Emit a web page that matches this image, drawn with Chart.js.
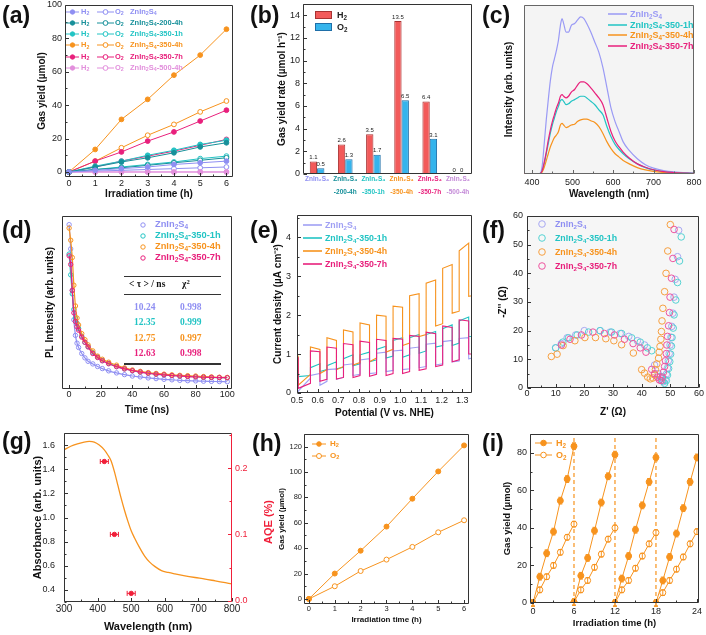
<!DOCTYPE html>
<html>
<head>
<meta charset="utf-8">
<script src="https://cdn.jsdelivr.net/npm/chart.js@4.4.1/dist/chart.umd.min.js"></script>
<style>
  html, body { margin: 0; padding: 0; background: #fff; }
  #fig { position: relative; width: 706px; height: 635px; overflow: hidden; font-family: 'Liberation Sans', Arial, sans-serif; }
  #fig canvas { position: absolute; }
  .lbl { position: absolute; font-size: 23px; line-height: 23px; font-weight: bold; color: #111; }
  .t { position: absolute; transform: translateY(-50%); white-space: nowrap; font-weight: bold; line-height: 1; }
  .t sub { font-size: 70%; position: relative; top: 0.25em; vertical-align: baseline; line-height: 0; }
  .t sup { font-size: 70%; position: relative; top: -0.45em; vertical-align: baseline; line-height: 0; }
  .rule { position: absolute; background: #333; }
</style>
</head>
<body>
<div id="fig"></div>
<script>
/* ── colours ──────────────────────────────────────────────── */
const LAV = '#8f8ff2', TEAL = '#17909a', CYAN = '#22c4c4', ORG = '#f7931e', MAG = '#e8207c', PNK = '#e28fdc';
const ZH = 'ZnIn<sub>2</sub>S<sub>4</sub>';

/* ── (a) gas evolution vs time ────────────────────────────── */
const aTime   = [0, 1, 2, 3, 4, 5, 6];
const aYTicks = [0, 20, 40, 60, 80, 100];
const aSuffix = ['', '-200-4h', '-350-1h', '-350-4h', '-350-7h', '-500-4h'];
const aColors = [LAV, TEAL, CYAN, ORG, MAG, PNK];
const aH2 = [
  [0, 1, 2, 3, 4.5, 5.5, 6.5],
  [0, 3, 6, 8.5, 11.5, 15, 17.5],
  [0, 3.5, 6.5, 10, 13, 16.5, 19],
  [0, 13.5, 31.5, 43.5, 58, 70, 85.5],
  [0, 6.5, 12, 18.5, 24, 30.5, 37],
  [0, 0, 0, 0, 0, 0, 0]
];
const aO2 = [
  [0, 0.5, 1, 1.5, 2, 2.5, 3],
  [0, 1.5, 2.5, 4, 5.5, 7, 8.5],
  [0, 1.5, 3, 4.5, 6, 8, 9.5],
  [0, 6.5, 14.5, 22, 28.5, 36, 42.5],
  [0, 3, 6.5, 9.5, 12.5, 16, 19.5],
  [0, 0, 0, 0, 0, 0, 0]
];

/* ── (b) rates ────────────────────────────────────────────── */
const bSuffix = ['', '-200-4h', '-350-1h', '-350-4h', '-350-7h', '-500-4h'];
const bColors = [LAV, TEAL, CYAN, ORG, MAG, '#c48ad8'];
const bH2 = [1.1, 2.6, 3.5, 13.5, 6.4, 0];
const bO2 = [0.5, 1.3, 1.7, 6.5, 3.1, 0];
const bYTicks = [0, 2, 4, 6, 8, 10, 12, 14];

/* ── (c) PL spectra ───────────────────────────────────────── */
const cWl = [380, 410, 420, 425, 430, 435, 440, 445, 450, 455, 460, 465, 470, 474, 478, 484, 490, 497, 505, 512,
             520, 528, 535, 545, 555, 565, 575, 585, 595, 605, 615, 625, 640, 660, 680, 700, 725, 750, 800];
const cLav  = [0, 0, 0.5, 5, 18, 32, 44, 55, 63, 68, 73, 79, 88, 92, 89, 84, 84, 88, 89, 91,
               93, 92, 89, 84, 78, 72, 63, 51, 39, 31, 25, 19, 14, 9, 5.5, 3.5, 2, 1.2, 0.5];
const cCyan = [0, 0, 0.3, 2, 6, 12, 18, 24, 29, 33, 37, 40, 43.5, 44, 43, 41, 41.5, 43, 44, 45,
               46, 46, 45, 43, 41, 38, 35, 28, 22, 17.5, 14.5, 12, 9, 6, 3.8, 2.4, 1.3, 0.8, 0.4];
const cOrg  = [0, 0, 0.2, 1.2, 4, 8, 12, 16, 19, 21.5, 23, 25, 29, 30, 29, 27.5, 28, 29, 29.5, 31,
               32, 32.5, 32.5, 31.5, 30.5, 28, 24, 19, 15, 12, 10, 8, 6, 3.8, 2.4, 1.5, 0.9, 0.5, 0.2];
const cMag  = [0, 0, 0.3, 2, 7, 13, 20, 26, 31, 35, 39, 42, 46, 47, 46, 45, 46, 48.5, 50, 52.5,
               54.5, 54.5, 53.5, 51, 48, 45, 41, 33, 25, 19.5, 16, 13, 9.5, 6, 4, 2.5, 1.4, 0.9, 0.4];
const cXTicks = [400, 500, 600, 700, 800];

/* ── (d) TRPL decay ───────────────────────────────────────── */
const dTime = [0, 1, 2, 3, 4, 5, 6, 8, 10, 12, 15, 18, 21, 25, 30, 35, 40, 45, 50, 55, 60, 65, 70, 75, 80, 85, 90, 95, 100];
const dLav  = [0.95, 0.81, 0.57, 0.40, 0.31, 0.265, 0.24, 0.205, 0.18, 0.16, 0.145, 0.13, 0.118, 0.105, 0.093,
               0.083, 0.075, 0.07, 0.064, 0.06, 0.056, 0.053, 0.05, 0.048, 0.047, 0.045, 0.044, 0.043, 0.042];
const dCyan = [0.78, 0.66, 0.55, 0.46, 0.41, 0.38, 0.35, 0.305, 0.27, 0.245, 0.21, 0.185, 0.165, 0.148, 0.13,
               0.117, 0.106, 0.098, 0.092, 0.086, 0.082, 0.078, 0.075, 0.073, 0.071, 0.069, 0.067, 0.066, 0.065];
const dOrg  = [0.93, 0.86, 0.76, 0.60, 0.48, 0.41, 0.37, 0.32, 0.285, 0.255, 0.22, 0.19, 0.172, 0.155, 0.138,
               0.122, 0.11, 0.102, 0.095, 0.09, 0.086, 0.082, 0.079, 0.077, 0.075, 0.072, 0.07, 0.068, 0.067];
const dMag  = [0.77, 0.72, 0.57, 0.44, 0.39, 0.36, 0.34, 0.30, 0.27, 0.243, 0.205, 0.182, 0.163, 0.146, 0.129,
               0.116, 0.106, 0.098, 0.091, 0.086, 0.082, 0.078, 0.075, 0.072, 0.07, 0.068, 0.067, 0.066, 0.065];
const dXTicks = [0, 20, 40, 60, 80, 100];
const dTau = ['10.24', '12.35', '12.75', '12.63'];
const dChi = ['0.998', '0.999', '0.997', '0.998'];

/* ── (e) chopped photocurrent ─────────────────────────────── */
const eRise = [0.565, 0.645, 0.725, 0.805, 0.885, 0.965, 1.045, 1.125, 1.205, 1.285];
const eFall = [0.506, 0.611, 0.691, 0.771, 0.851, 0.931, 1.011, 1.091, 1.171, 1.251, 1.331];
const eLavOn  = [[0, 0.02], [0.45, 0.5], [0.6, 0.62], [0.72, 0.75], [0.85, 0.88], [1.02, 1.05], [1.08, 1.1], [1.15, 1.18], [1.25, 1.28], [1.32, 1.35], [1.4, 1.42]];
const eLavOff = [[0.05, 0.38], [0.2, 0.3], [0.35, 0.4], [0.45, 0.48], [0.5, 0.52], [0.55, 0.58], [0.6, 0.62], [0.65, 0.68], [0.72, 0.75], [0.8, 0.82], [0.88, 0.9]];
const eCyanOn  = [[0.55, 0.62], [0.65, 0.75], [0.7, 0.8], [0.88, 0.98], [0.98, 1.05], [1.12, 1.2], [1.35, 1.42], [1.42, 1.5], [1.5, 1.58], [1.65, 1.75], [1.85, 1.95]];
const eCyanOff = [[0.42, 0.45], [0.55, 0.6], [0.62, 0.66], [0.7, 0.75], [0.8, 0.85], [0.9, 0.95], [0.92, 0.98], [1.02, 1.08], [1.18, 1.22], [1.22, 1.28], [1.45, 1.45]];
const eOrgOn  = [[0.8, 0.9], [1.18, 1.12], [1.42, 1.35], [1.62, 1.57], [1.8, 1.75], [2.0, 1.97], [2.23, 2.2], [2.5, 2.55], [2.82, 2.9], [3.2, 3.3], [3.65, 3.85]];
const eOrgOff = [[0.2, 0.48], [0.5, 0.6], [0.6, 0.68], [0.72, 0.78], [0.8, 0.9], [1.05, 1.12], [1.22, 1.28], [1.45, 1.5], [1.72, 1.78], [2.05, 2.1], [2.48, 2.5]];
const eMagOn  = [[0.88, 0.9], [1.08, 1.06], [1.18, 1.15], [1.27, 1.24], [1.33, 1.3], [1.38, 1.35], [1.4, 1.38], [1.48, 1.45], [1.56, 1.52], [1.72, 1.68], [1.88, 1.85]];
const eMagOff = [[0.12, 0.25], [0.3, 0.35], [0.36, 0.4], [0.4, 0.45], [0.43, 0.48], [0.45, 0.5], [0.5, 0.55], [0.58, 0.62], [0.68, 0.72], [0.8, 0.85], [1.0, 1.0]];
const eXTicks = [0.5, 0.6, 0.7, 0.8, 0.9, 1.0, 1.1, 1.2, 1.3];
const eYTicks = [0, 1, 2, 3, 4];

/* ── (f) Nyquist ──────────────────────────────────────────── */
const fLav = [[10, 14], [12, 15.5], [14, 17.5], [17, 18.5], [20, 20], [25.5, 20], [29, 19.5], [32.5, 19], [35.5, 18], [38.5, 16.5], [41, 15],
  [44.5, 8], [45.8, 5], [46.8, 3.2], [47.6, 2.2], [48.2, 3], [48.6, 4.8], [49, 7], [49.3, 9.5], [49.6, 12], [49.9, 15], [50.2, 17.7],
  [50.5, 21.5], [50.9, 26.1], [51.3, 31.7], [51.7, 37.9], [52.5, 45.8], [52.9, 55]];
const fCyan = [[10, 14], [12.5, 16], [14.5, 17.5], [17.5, 18.5], [21.5, 19.5], [25.5, 20], [29.5, 19.5], [33, 19], [36.5, 17.5], [39.5, 16],
  [42, 14], [43.5, 13], [46.5, 4], [47.3, 2.5], [48, 1.6], [48.6, 2.6], [49, 4.5], [49.4, 6.8], [49.8, 9.2], [50.1, 11.8], [50.4, 14.6],
  [50.6, 17.6], [51, 20.9], [51.3, 25.5], [51.9, 30.7], [52.5, 36.8], [53.2, 44.3], [53.8, 52.7]];
const fOrg = [[8.5, 11], [10.5, 11.8], [12.6, 14.8], [16.7, 16.5], [20.2, 17.6], [23.9, 17.6], [27.5, 17.2], [30.3, 16.5], [33, 15.1],
  [37.1, 12.2], [40, 6.4], [41, 5.2], [42.1, 3.8], [43, 3.2], [43.9, 3.5], [44.5, 4.6], [44.8, 6.4], [45.3, 8.4], [45.9, 10.4],
  [46.1, 12.5], [46.4, 14.5], [46.7, 17], [46.9, 19.7], [47.1, 23.4], [47.4, 27.8], [48, 33.6], [48.5, 40], [49.1, 47.8], [50, 57]];
const fMag = [[12, 15], [15, 17], [19, 18.5], [23, 19.5], [27, 19], [30.5, 18.5], [34, 17], [37, 15.5], [39.5, 14], [41.5, 12.5],
  [43.5, 6.5], [44.5, 5], [45.5, 3.8], [46.2, 2.8], [46.8, 2.6], [47.2, 3.8], [47.6, 5.5], [48, 7.5], [48.3, 9.5], [48.6, 12], [48.8, 15],
  [49, 18], [49.4, 21.7], [49.7, 26.3], [49.9, 31.7], [50.4, 38.3], [50.9, 45.2], [51.3, 55.3]];
const fTicks = [0, 10, 20, 30, 40, 50, 60];

/* ── (g) absorbance + AQE ─────────────────────────────────── */
const gWl  = [300, 320, 340, 360, 375, 390, 405, 420, 430, 440, 450, 460, 470, 480, 490, 500, 510, 525, 540, 555,
              570, 590, 610, 630, 660, 690, 720, 750, 780, 800];
const gAbs = [1.56, 1.59, 1.61, 1.625, 1.63, 1.625, 1.60, 1.56, 1.52, 1.47, 1.38, 1.27, 1.16, 1.06, 0.97, 0.89, 0.83, 0.75, 0.68, 0.63,
              0.595, 0.56, 0.545, 0.533, 0.517, 0.503, 0.49, 0.475, 0.46, 0.45];
const gAqeWl  = [420, 450, 500];
const gAqe    = [0.21, 0.10, 0.011];
const gAqeErr = [12, 12, 12];
const gXTicks  = [300, 400, 500, 600, 700, 800];
const gYTicks  = [0.4, 0.6, 0.8, 1.0, 1.2, 1.4, 1.6];
const gY2Ticks = [0, 0.1, 0.2];

/* ── (h) long run ─────────────────────────────────────────── */
const hTime = [0, 1, 2, 3, 4, 5, 6];
const hH2 = [0, 20, 38, 57, 79, 100.5, 121];
const hO2 = [0, 10, 22, 31, 41, 52.5, 62];
const hYTicks = [0, 20, 40, 60, 80, 100, 120];

/* ── (i) cycling ──────────────────────────────────────────── */
const iTime = [[0, 1, 2, 3, 4, 5, 6], [6, 7, 8, 9, 10, 11, 12], [12, 13, 14, 15, 16, 17, 18], [18, 19, 20, 21, 22, 23, 24]];
const iH2 = [[0, 14, 26.5, 38, 54.5, 66, 83.5], [0.5, 14.5, 24, 38.5, 53.5, 67.5, 79], [0, 13, 25, 39, 52, 64.5, 77.5], [0, 12, 24.5, 37, 50.5, 64.5, 77.5]];
const iO2 = [[0, 7, 14, 20, 27, 35, 42], [0.5, 7, 12, 19, 26, 34, 40], [0, 7, 12, 18.5, 25, 31.5, 37.5], [0, 5.5, 12, 18, 24.5, 31.5, 38]];
const iSwitch = [6, 12, 18];
const iXTicks = [0, 6, 12, 18, 24];
const iYTicks = [0, 20, 40, 60, 80];

/* ── Chart.js setup ───────────────────────────────────────── */
Chart.defaults.font.family = "'Liberation Sans', Arial, sans-serif";
Chart.defaults.color = '#222';
Chart.defaults.animation = false;
Chart.defaults.events = [];
Chart.defaults.plugins.legend.display = false;
Chart.defaults.plugins.tooltip.enabled = false;

/* box round the plot area, inward ticks */
const framePlugin = {
  id: 'frame',
  beforeDatasetsDraw(chart, args, o) {
    if (!o.bg) return;
    const a = chart.chartArea, ctx = chart.ctx;
    ctx.save();
    ctx.fillStyle = o.bg;
    ctx.fillRect(a.left, a.top, a.right - a.left, a.bottom - a.top);
    ctx.restore();
  },
  afterDraw(chart, args, o) {
    const a = chart.chartArea, ctx = chart.ctx;
    const L = Math.round(a.left) + 0.5, R = Math.round(a.right) - 0.5;
    const T = Math.round(a.top) + 0.5, B = Math.round(a.bottom) - 0.5;
    const col = o.color || '#333';
    const seg = (x1, y1, x2, y2, c) => { ctx.strokeStyle = c; ctx.beginPath(); ctx.moveTo(x1, y1); ctx.lineTo(x2, y2); ctx.stroke(); };
    ctx.save();
    ctx.lineWidth = 1;
    seg(L, T, R, T, col); seg(L, B, R, B, col); seg(L, T, L, B, col); seg(R, T, R, B, o.right || col);
    (o.ticks || '').split(',').filter(Boolean).forEach(id => {
      const s = chart.scales[id];
      const v = s.ticks.map(t => t.value);
      const minor = [];
      for (let i = 0; i + 1 < v.length; i++) minor.push((v[i] + v[i + 1]) / 2);
      if (v.length > 1) { const st = v[1] - v[0]; minor.push(v[0] - st / 2, v[v.length - 1] + st / 2); }
      const c = s.position === 'right' ? (o.right || col) : col;
      const draw = (val, len) => {
        if (val < s.min - 1e-9 || val > s.max + 1e-9) return;
        const p = Math.round(s.getPixelForValue(val)) + 0.5;
        if (s.isHorizontal()) seg(p, B, p, B - len, c);
        else if (s.position === 'right') seg(R, p, R - len, p, c);
        else seg(L, p, L + len, p, c);
      };
      v.forEach(x => draw(x, 3.5));
      minor.forEach(x => draw(x, 2));
    });
    ctx.restore();
  }
};
Chart.register(framePlugin);

const errBars = {
  id: 'errBars',
  afterDatasetsDraw(chart) {
    const ctx = chart.ctx;
    chart.data.datasets.forEach((ds, i) => {
      if (ds.errX == null && ds.errY == null) return;
      const meta = chart.getDatasetMeta(i);
      const xs = chart.scales[meta.xAxisID], ys = chart.scales[meta.yAxisID];
      ctx.save();
      ctx.strokeStyle = ds.borderColor;
      ctx.lineWidth = 1;
      ds.data.forEach((p, j) => {
        const x = xs.getPixelForValue(p.x), y = ys.getPixelForValue(p.y);
        ctx.beginPath();
        if (ds.errX != null) {
          const e = Array.isArray(ds.errX) ? ds.errX[j] : ds.errX;
          const x0 = xs.getPixelForValue(p.x - e), x1 = xs.getPixelForValue(p.x + e);
          ctx.moveTo(x0, y); ctx.lineTo(x1, y);
          ctx.moveTo(x0, y - 2.5); ctx.lineTo(x0, y + 2.5);
          ctx.moveTo(x1, y - 2.5); ctx.lineTo(x1, y + 2.5);
        }
        if (ds.errY != null) {
          const e = Array.isArray(ds.errY) ? ds.errY[j] : ds.errY;
          const y0 = ys.getPixelForValue(p.y - e), y1 = ys.getPixelForValue(p.y + e);
          ctx.moveTo(x, y0); ctx.lineTo(x, y1);
          ctx.moveTo(x - 2, y0); ctx.lineTo(x + 2, y0);
          ctx.moveTo(x - 2, y1); ctx.lineTo(x + 2, y1);
        }
        ctx.stroke();
      });
      ctx.restore();
    });
  }
};

const barValues = {
  id: 'barValues',
  afterDatasetsDraw(chart) {
    const ctx = chart.ctx;
    ctx.save();
    ctx.font = "6px 'Liberation Sans', Arial, sans-serif";
    ctx.fillStyle = '#222';
    ctx.textAlign = 'center';
    ctx.textBaseline = 'bottom';
    chart.data.datasets.forEach((ds, i) => {
      chart.getDatasetMeta(i).data.forEach((bar, j) => ctx.fillText(String(ds.data[j]), bar.x, bar.y - 1));
    });
    ctx.restore();
  }
};

/* ── helpers ──────────────────────────────────────────────── */
const fig = document.getElementById('fig');

function axis(o) {
  const horiz = o.pos === 'bottom';
  const cfg = {
    type: o.type || 'linear',
    position: o.pos,
    afterFit: s => {
      if (s.isHorizontal()) s.height = o.size; else s.width = o.size;
      s.paddingLeft = s.paddingRight = s.paddingTop = s.paddingBottom = 0;
    },
    grid: { display: false, drawTicks: false },
    border: { display: false },
    ticks: {
      display: o.labels !== false, padding: o.pad || 0, autoSkip: false, maxRotation: 0,
      font: { size: o.fs || 9, lineHeight: o.lh || 1.2, weight: o.fw || 'normal' },
      color: o.color || '#222'
    },
    title: {
      display: !!o.title, text: o.title || '', color: '#111',
      font: { size: o.tfs || 10, weight: 'bold' },
      padding: horiz ? { top: 0, bottom: o.tpad || 0 } : { top: o.tpad || 0, bottom: 0 }
    }
  };
  if (o.min !== undefined) { cfg.min = o.min; cfg.max = o.max; }
  if (o.ticks) cfg.afterBuildTicks = s => { s.ticks = o.ticks.map(v => ({ value: v })); };
  if (o.fmt) cfg.ticks.callback = o.fmt;
  return cfg;
}

function line(xs, ys, color, o = {}) {
  return {
    data: ys.map((y, i) => ({ x: xs[i], y })),
    showLine: true, borderColor: color, backgroundColor: color, borderWidth: o.lw || 1,
    pointRadius: o.r || 0, pointBorderWidth: 1, pointBorderColor: color,
    pointBackgroundColor: o.fill || color,
    cubicInterpolationMode: o.smooth ? 'monotone' : 'default'
  };
}

function pairs(arr, color, r) {
  return { data: arr.map(([x, y]) => ({ x, y })), showLine: false, pointRadius: r, pointBorderWidth: 1,
           pointBorderColor: color, pointBackgroundColor: 'rgba(0,0,0,0)', borderColor: color };
}

function chop(on, off) {
  const pts = [{ x: 0.5, y: on[0][0] }, { x: eFall[0], y: on[0][1] }];
  for (let k = 0; k < eFall.length; k++) {
    pts.push({ x: eFall[k], y: off[k][0] });
    if (k < eRise.length) {
      pts.push({ x: eRise[k], y: off[k][1] }, { x: eRise[k], y: on[k + 1][0] }, { x: eFall[k + 1], y: on[k + 1][1] });
    } else {
      pts.push({ x: 1.35, y: off[k][1] });
    }
  }
  return pts;
}

function mk(box, cfg) {
  const c = document.createElement('canvas');
  c.width = box[2]; c.height = box[3];
  c.style.left = box[0] + 'px'; c.style.top = box[1] + 'px';
  fig.appendChild(c);
  cfg.options.responsive = false;
  cfg.options.devicePixelRatio = 1;
  return new Chart(c, cfg);
}

function put(x, y, html, style) {
  const d = document.createElement('div');
  d.className = 't';
  d.innerHTML = html;
  d.style.cssText = `left:${x}px;top:${y}px;` + (style || '');
  fig.appendChild(d);
  return d;
}

function mark(x, y, w, color, o = {}) {
  let s = `<svg width="${w}" height="12" style="position:absolute;left:${x}px;top:${y - 6}px;overflow:visible">`;
  if (o.line) s += `<line x1="0" y1="6" x2="${w}" y2="6" stroke="${color}" stroke-width="${o.lw || 1.2}"/>`;
  if (o.rect) s += `<rect x="0.5" y="${6 - o.rect / 2}" width="${w - 1}" height="${o.rect}" fill="${color}" stroke="${o.stroke}" stroke-width="1"/>`;
  if (o.dot) s += `<circle cx="${w / 2}" cy="6" r="${o.r || 2.5}" fill="${o.dot === 'open' ? '#fff' : o.dot === 'ring' ? 'none' : color}" stroke="${color}" stroke-width="1"/>`;
  fig.insertAdjacentHTML('beforeend', s + '</svg>');
}

/* ── (a) ──────────────────────────────────────────────────── */
mk([0, 0, 238, 210], {
  type: 'scatter',
  data: { datasets: [
    ...aH2.map((v, i) => line(aTime, v, aColors[i], { r: 2.4 })),
    ...aO2.map((v, i) => line(aTime, v, aColors[i], { r: 2.4, fill: '#fff' }))
  ] },
  options: {
    layout: { padding: { top: 5, right: 3 } },
    plugins: { frame: { ticks: 'x,y' } },
    scales: {
      x: axis({ pos: 'bottom', min: -0.15, max: 6.25, ticks: aTime, size: 33, pad: 1, title: 'Irradiation time (h)', tpad: 10 }),
      y: axis({ pos: 'left', min: -3, max: 100, ticks: aYTicks, size: 65, pad: 3, title: 'Gas yield (µmol)', tpad: 36 })
    }
  }
});
aSuffix.forEach((suf, i) => {
  const y = 11.7 + i * 11.2, c = aColors[i], st = `font-size:7.5px;color:${c};`;
  mark(66, y, 13, c, { line: true, dot: 'fill', r: 2.2, lw: 1 });
  put(81, y, 'H<sub>2</sub>', st);
  mark(97, y, 17, c, { line: true, dot: 'open', r: 2.4, lw: 1 });
  put(115, y, 'O<sub>2</sub>', st);
  put(130, y, ZH + suf, st);
});

/* ── (b) ──────────────────────────────────────────────────── */
mk([238, 0, 236, 210], {
  type: 'bar',
  data: {
    labels: bSuffix.map(s => ['ZnIn₂S₄', s]),
    datasets: [
      { data: bH2, backgroundColor: '#f25a5a', borderColor: '#a83232', borderWidth: 1, barPercentage: 1, categoryPercentage: 0.52 },
      { data: bO2, backgroundColor: '#35b4ec', borderColor: '#1f6fa8', borderWidth: 1, barPercentage: 1, categoryPercentage: 0.52 }
    ]
  },
  plugins: [barValues],
  options: {
    layout: { padding: { top: 4, right: 2 } },
    plugins: { frame: { ticks: 'y' } },
    scales: {
      x: axis({ type: 'category', pos: 'bottom', size: 36, pad: -1, fs: 6.5, lh: 2, fw: 'bold',
                color: c => bColors[c.index], fmt: function (v) { return this.getLabelForValue(v); } }),
      y: axis({ pos: 'left', min: 0, max: 15, ticks: bYTicks, size: 65, pad: 3, title: 'Gas yield rate (µmol h⁻¹)', tpad: 38 })
    }
  }
});
mark(315, 15, 17, '#f25a5a', { rect: 7, stroke: '#a83232' });
put(337, 15, 'H<sub>2</sub>', 'font-size:9px;color:#222;');
mark(315, 27, 17, '#35b4ec', { rect: 7, stroke: '#1f6fa8' });
put(337, 27, 'O<sub>2</sub>', 'font-size:9px;color:#222;');

/* ── (c) ──────────────────────────────────────────────────── */
mk([474, 0, 232, 210], {
  type: 'scatter',
  data: { datasets: [
    line(cWl, cMag, MAG, { lw: 1.2, smooth: true }),
    line(cWl, cOrg, ORG, { lw: 1.2, smooth: true }),
    line(cWl, cCyan, CYAN, { lw: 1.2, smooth: true }),
    line(cWl, cLav, '#9a9af5', { lw: 1.2, smooth: true })
  ] },
  options: {
    layout: { padding: { top: 5, right: 12 } },
    plugins: { frame: { ticks: 'x', bg: '#f4f4f4', color: '#666' } },
    scales: {
      x: axis({ pos: 'bottom', min: 380, max: 800, ticks: cXTicks, size: 36, pad: 3.6, title: 'Wavelength (nm)', tpad: 10 }),
      y: axis({ pos: 'left', min: 0, max: 100, labels: false, size: 50, title: 'Intensity (arb. units)', tpad: 29 })
    }
  }
});
[['', '#9a9af5'], ['-350-1h', CYAN], ['-350-4h', ORG], ['-350-7h', MAG]].forEach(([suf, c], i) => {
  const y = 14 + i * 10.5;
  mark(608, y, 19, c, { line: true, lw: 1.5 });
  put(630, y, ZH + suf, `font-size:9px;color:${c};`);
});

/* ── (d) ──────────────────────────────────────────────────── */
mk([0, 210, 238, 212], {
  type: 'scatter',
  data: { datasets: [
    line(dTime, dMag, MAG, { r: 2.2, fill: 'rgba(0,0,0,0)', lw: 1.2, smooth: true }),
    line(dTime, dOrg, ORG, { r: 2.2, fill: 'rgba(0,0,0,0)', lw: 1.2, smooth: true }),
    line(dTime, dCyan, CYAN, { r: 2.2, fill: 'rgba(0,0,0,0)', lw: 1.2, smooth: true }),
    line(dTime, dLav, LAV, { r: 2.2, fill: 'rgba(0,0,0,0)', lw: 1.2, smooth: true })
  ] },
  options: {
    layout: { padding: { top: 6, right: 6 } },
    plugins: { frame: { ticks: 'x' } },
    scales: {
      x: axis({ pos: 'bottom', min: -4.5, max: 103, ticks: dXTicks, size: 33, pad: 0.6, title: 'Time (ns)', tpad: 6 }),
      y: axis({ pos: 'left', min: 0, max: 1, labels: false, size: 62, title: 'PL Intensity (arb. units)', tpad: 44 })
    }
  }
});
const dColors = [LAV, CYAN, ORG, MAG];
['', '-350-1h', '-350-4h', '-350-7h'].forEach((suf, i) => {
  const y = 225 + i * 11;
  mark(140, y, 6, dColors[i], { dot: 'ring', r: 2.2 });
  put(155, y, ZH + suf, `font-size:9.3px;color:${dColors[i]};`);
});
[[276, 1], [294, 1], [363, 2]].forEach(([y, h]) => {
  const r = document.createElement('div');
  r.className = 'rule';
  r.style.cssText = `left:124px;top:${y}px;width:97px;height:${h}px;`;
  fig.appendChild(r);
});
const serif = "font-family:'Liberation Serif','Times New Roman',serif;font-size:9.5px;";
put(129, 285, '&lt; τ &gt; / ns', serif + 'color:#111;');
put(182, 285, 'χ<sup>2</sup>', serif + 'color:#111;');
dTau.forEach((v, i) => {
  const y = 308 + i * 15.3;
  put(134, y, v, serif + `color:${dColors[i]};`);
  put(180, y, dChi[i], serif + `color:${dColors[i]};`);
});

/* ── (e) ──────────────────────────────────────────────────── */
mk([238, 210, 236, 212], {
  type: 'scatter',
  data: { datasets: [
    { data: chop(eMagOn, eMagOff), showLine: true, borderColor: MAG, borderWidth: 1.1, pointRadius: 0 },
    { data: chop(eOrgOn, eOrgOff), showLine: true, borderColor: ORG, borderWidth: 1.1, pointRadius: 0 },
    { data: chop(eCyanOn, eCyanOff), showLine: true, borderColor: CYAN, borderWidth: 1.1, pointRadius: 0 },
    { data: chop(eLavOn, eLavOff), showLine: true, borderColor: '#a0a0f4', borderWidth: 1.1, pointRadius: 0 }
  ] },
  options: {
    layout: { padding: { top: 5, right: 2 } },
    plugins: { frame: { ticks: 'x,y' } },
    scales: {
      x: axis({ pos: 'bottom', min: 0.5, max: 1.347, ticks: eXTicks, size: 29, pad: 2.6, fmt: v => v.toFixed(1), title: 'Potential (V vs. NHE)', tpad: 3 }),
      y: axis({ pos: 'left', min: 0, max: 4.57, ticks: eYTicks, size: 59, pad: 6, title: 'Current density (µA cm⁻²)', tpad: 34 })
    }
  }
});
[['', '#a0a0f4'], ['-350-1h', CYAN], ['-350-4h', ORG], ['-350-7h', MAG]].forEach(([suf, c], i) => {
  const y = 225 + i * 13.1;
  mark(303, y, 19, c, { line: true, lw: 1.6 });
  put(325, y, ZH + suf, `font-size:8.8px;color:${c};`);
});

/* ── (f) ──────────────────────────────────────────────────── */
mk([474, 210, 232, 212], {
  type: 'scatter',
  data: { datasets: [
    pairs(fMag, '#ee55a0', 3.3),
    pairs(fOrg, '#f7a040', 3.3),
    pairs(fCyan, '#55d3d3', 3.3),
    pairs(fLav, '#a8a8f2', 3.3)
  ] },
  options: {
    layout: { padding: { top: 6, right: 7 } },
    plugins: { frame: { ticks: 'x,y', bg: '#f6f6f6' } },
    scales: {
      x: axis({ pos: 'bottom', min: 0, max: 60, ticks: fTicks, size: 34, pad: 0.6, title: "Z' (Ω)", tpad: 4 }),
      y: axis({ pos: 'left', min: 0, max: 60, ticks: fTicks, size: 53, pad: 4, title: "-Z'' (Ω)", tpad: 23 })
    }
  }
});
[['', '#a8a8f2', LAV], ['-350-1h', '#55d3d3', CYAN], ['-350-4h', '#f7a040', ORG], ['-350-7h', '#ee55a0', MAG]].forEach(([suf, c, tc], i) => {
  const y = 224 + i * 14;
  mark(538, y, 8, c, { dot: 'ring', r: 3.3 });
  put(555, y, ZH + suf, `font-size:8.8px;color:${tc};`);
});

/* ── (g) ──────────────────────────────────────────────────── */
const RED = '#f0203a';
mk([0, 422, 280, 213], {
  type: 'scatter',
  data: { datasets: [
    { data: gAqeWl.map((x, i) => ({ x, y: gAqe[i] })), yAxisID: 'y2', showLine: false, pointRadius: 2.2,
      pointBackgroundColor: RED, pointBorderColor: RED, borderColor: RED, errX: gAqeErr },
    line(gWl, gAbs, ORG, { lw: 1.3, smooth: true })
  ] },
  plugins: [errBars],
  options: {
    layout: { padding: { top: 11, right: 0 } },
    plugins: { frame: { ticks: 'x,y,y2', right: RED } },
    scales: {
      x: axis({ pos: 'bottom', min: 300, max: 800, ticks: gXTicks, size: 33, pad: 1.3, fs: 10, title: 'Wavelength (nm)', tfs: 11, tpad: 1.4 }),
      y: axis({ pos: 'left', min: 0.3, max: 1.7, ticks: gYTicks, size: 64, pad: 9, fs: 9, fmt: v => v.toFixed(1), title: 'Absorbance (arb. units)', tfs: 11, tpad: 31 }),
      y2: axis({ pos: 'right', min: -0.002, max: 0.253, ticks: gY2Ticks, size: 48, pad: 3, fs: 9, color: RED, fmt: v => v.toFixed(1) })
    }
  }
});
put(268, 522, 'AQE (%)', `font-size:11px;color:${RED};transform:translate(-50%,-50%) rotate(-90deg);`);

/* ── (h) ──────────────────────────────────────────────────── */
mk([272, 422, 202, 213], {
  type: 'scatter',
  data: { datasets: [
    line(hTime, hH2, ORG, { r: 2.5 }),
    line(hTime, hO2, ORG, { r: 2.5, fill: '#fff' })
  ] },
  options: {
    layout: { padding: { top: 12, right: 2 } },
    plugins: { frame: { ticks: 'x,y' } },
    scales: {
      x: axis({ pos: 'bottom', min: -0.19, max: 6.19, ticks: hTime, size: 31, pad: 0.5, fs: 7.5, title: 'Irradiation time (h)', tfs: 8, tpad: 10.2 }),
      y: axis({ pos: 'left', min: -4, max: 130, ticks: hYTicks, size: 32, pad: 2, fs: 7.5, title: 'Gas yield (µmol)', tfs: 8, tpad: 5.2 })
    }
  }
});
mark(312, 444, 14, ORG, { line: true, dot: 'fill', r: 2.3, lw: 1 });
put(330, 444, 'H<sub>2</sub>', `font-size:8px;color:${ORG};`);
mark(312, 456, 14, ORG, { line: true, dot: 'open', r: 2.5, lw: 1 });
put(330, 456, 'O<sub>2</sub>', `font-size:8px;color:${ORG};`);

/* ── (i) ──────────────────────────────────────────────────── */
mk([474, 422, 232, 213], {
  type: 'scatter',
  data: { datasets: [
    ...iTime.map((t, k) => Object.assign(line(t, iH2[k], ORG, { r: 3 }), { errY: 1.8 })),
    ...iTime.map((t, k) => Object.assign(line(t, iO2[k], ORG, { r: 3, fill: '#fff' }), { errY: 1.5 })),
    ...iSwitch.map(t => ({ data: [{ x: t, y: 0 }, { x: t, y: 90 }], showLine: true, borderColor: ORG, borderWidth: 1.2,
                           borderDash: [4, 3], pointRadius: 0 }))
  ] },
  plugins: [errBars],
  options: {
    layout: { padding: { top: 12, right: 7 } },
    plugins: { frame: { ticks: 'x,y' } },
    scales: {
      x: axis({ pos: 'bottom', min: -0.44, max: 24.3, ticks: iXTicks, size: 32, pad: 3, title: 'Irradiation time (h)', tfs: 9.5, tpad: 6.3 }),
      y: axis({ pos: 'left', min: 0, max: 90, ticks: iYTicks, size: 56, pad: 3, title: 'Gas yield (µmol)', tfs: 9.5, tpad: 27.3 })
    }
  }
});
mark(535, 443, 17, ORG, { line: true, dot: 'fill', r: 2.8, lw: 1 });
put(556, 443, 'H<sub>2</sub>', `font-size:9px;color:${ORG};`);
mark(535, 455, 17, ORG, { line: true, dot: 'open', r: 2.8, lw: 1 });
put(556, 455, 'O<sub>2</sub>', `font-size:9px;color:${ORG};`);

/* ── panel letters ────────────────────────────────────────── */
[['(a)', 2, 4], ['(b)', 250, 4], ['(c)', 482, 4], ['(d)', 2, 219], ['(e)', 250, 219], ['(f)', 482, 219],
 ['(g)', 2, 430], ['(h)', 252, 432], ['(i)', 482, 432]].forEach(([s, x, y]) => {
  const d = document.createElement('div');
  d.className = 'lbl';
  d.textContent = s;
  d.style.left = x + 'px';
  d.style.top = y + 'px';
  fig.appendChild(d);
});
</script>
</body>
</html>
